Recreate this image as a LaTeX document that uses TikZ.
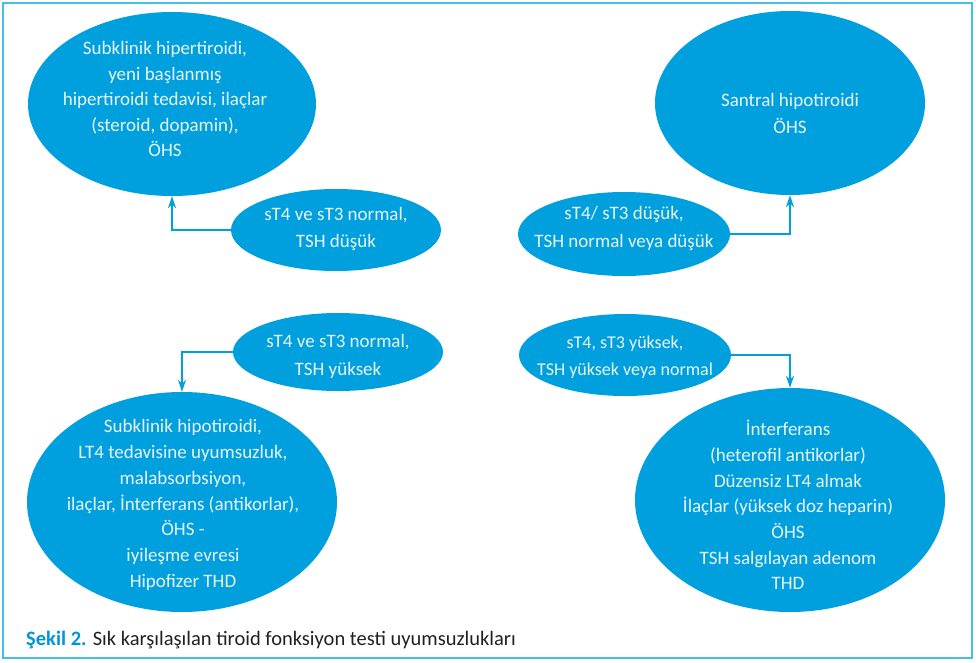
\documentclass[tikz,border=0pt]{standalone}
\usepackage{fontspec}
\setmainfont{Carlito}
\usetikzlibrary{shapes.geometric,arrows.meta}
\definecolor{ellblue}{RGB}{0,160,222}
\definecolor{framecol}{RGB}{70,190,236}
\definecolor{txtwhite}{RGB}{232,244,250}
\definecolor{capblue}{RGB}{0,150,214}
\definecolor{captext}{RGB}{35,31,32}
\begin{document}
\begin{tikzpicture}[x=1pt,y=-1pt,
  ell/.style={ellipse,fill=ellblue,draw=none,inner sep=0pt},
  txt/.style={inner sep=0pt,align=center,text=txtwhite,font=\fontsize{19}{25.5}\selectfont},
  stxt/.style={txt,font=\fontsize{19}{27.5}\selectfont},
  conn/.style={draw=ellblue,line width=2pt,-{Stealth[length=12pt,width=8pt]}}
]
\useasboundingbox (0,0) rectangle (976,662);
\draw[framecol,line width=2.5pt] (3,3) rectangle (972,658);

\node[ell,minimum width=288pt,minimum height=184pt] (TL) at (172,104) {};
\node[txt] (TLt) at (165,99)
  {Subklinik hipertiroidi,\\yeni başlanmış\\hipertiroidi tedavisi, ilaçlar\\(steroid, dopamin),\\ÖHS};
\node[ell,minimum width=270pt,minimum height=184pt] (TR) at (790,103) {};
\node[txt,font=\fontsize{19}{27}\selectfont] (TRt) at (790,113.5) {Santral hipotiroidi\\ÖHS};

\node[ell,minimum width=210pt,minimum height=82pt] (s1) at (336,230) {};
\node[stxt] (s1t) at (336,229) {sT4 ve sT3 normal,\\TSH düşük};
\node[ell,minimum width=212pt,minimum height=84pt] (s2) at (624,234) {};
\node[stxt] (s2t) at (624,228.5) {sT4/ sT3 düşük,\\TSH normal veya düşük};
\node[ell,minimum width=210pt,minimum height=78pt] (s3) at (338,352) {};
\node[stxt] (s3t) at (338,356.5) {sT4 ve sT3 normal,\\TSH yüksek};
\node[ell,minimum width=212pt,minimum height=82pt] (s4) at (625,355) {};
\node[stxt,font=\fontsize{18}{27}\selectfont] (s4t) at (625,357) {sT4, sT3 yüksek,\\TSH yüksek veya normal};

\node[ell,minimum width=310pt,minimum height=220pt] (BL) at (182,502) {};
\node[txt,font=\fontsize{19}{25.7}\selectfont] (BLt) at (183,505)
  {Subklinik hipotiroidi,\\LT4 tedavisine uyumsuzluk,\\malabsorbsiyon,\\ilaçlar, İnterferans (antikorlar),\\ÖHS -\\iyileşme evresi\\Hipofizer THD};
\node[ell,minimum width=310pt,minimum height=224pt] (BR) at (790,500) {};
\node[txt,font=\fontsize{19}{25.7}\selectfont] (BRt) at (788,505)
  {İnterferans\\(heterofil antikorlar)\\Düzensiz LT4 almak\\İlaçlar (yüksek doz heparin)\\ÖHS\\TSH salgılayan adenom\\THD};

\draw[conn] (s1.west) -| (TL.south);
\draw[conn] (s2.east) -| (TR.south);
\draw[conn] (s3.west) -| (BL.north);
\draw[conn] (s4.east) -| (BR.north);

\node[anchor=west,inner sep=0pt,text=captext,font=\fontsize{20.5}{24}\selectfont] (cap) at (26,640)
  {\textcolor{capblue}{\textbf{Şekil 2.}} Sık karşılaşılan tiroid fonksiyon testi uyumsuzlukları};
\end{tikzpicture}
\end{document}
